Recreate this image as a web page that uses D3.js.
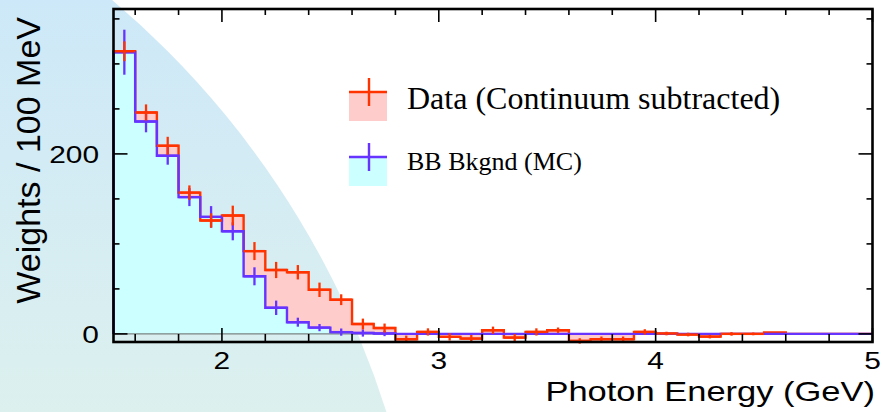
<!DOCTYPE html>
<html>
<head>
<meta charset="utf-8">
<script src="https://cdn.jsdelivr.net/npm/d3@7"></script>
<style>
  html, body { margin: 0; padding: 0; background: #ffffff; }
  svg { display: block; }
</style>
</head>
<body>
<svg id="chart" width="882" height="412"></svg>
<script>
// Photon energy bins (lower edge, GeV), 100 MeV wide
const binStart = [1.5, 1.6, 1.7, 1.8, 1.9, 2.0, 2.1, 2.2, 2.3, 2.4, 2.5, 2.6, 2.7,
  2.8, 2.9, 3.0, 3.1, 3.2, 3.3, 3.4, 3.5, 3.6, 3.7, 3.8, 3.9,
  4.0, 4.1, 4.2, 4.3, 4.4, 4.5, 4.6, 4.7, 4.8, 4.9];
const binWidth = 0.1;

// Continuum-subtracted data, weights per 100 MeV
const dataValues = [314, 246, 209, 157, 126, 131.5, 92, 71, 68.5, 49, 38, 11, 6.5,
  -5.9, 2.2, -3.3, -5.2, 4.1, -4.1, 2.2, 4.1, -7.8, -5.9, -5.9, 2.2,
  0.4, -0.7, -3, 0, 0, 1.5, 0, 0, 0, 0];
const dataErrors = [11, 9, 10, 8, 8, 11, 10, 9, 8, 8, 6, 6, 5,
  4, 4, 4, 4, 4, 4, 4, 3, 3, 3, 3, 3,
  2, 2, 2, 2, 1.5, 0, 0, 0, 0, 0];

// BB background Monte Carlo
const mcValues = [313, 236, 198, 152, 130, 114, 64, 29, 13, 7, 2, 1, 0.5,
  0, 0, 0, 0, 0, 0, 0, 0, 0, 0, 0, 0,
  0, 0, 0, 0, 0, 0, 0, 0, 0, 0];
const mcErrors = [25, 12, 10, 10, 12, 10, 10, 8, 5, 4, 4, 4, 3,
  0, 0, 0, 0, 0, 0, 0, 0, 0, 0, 0, 0,
  0, 0, 0, 0, 0, 0, 0, 0, 0, 0];

// Axis ticks
const xMajorTicks = [2, 3, 4, 5];
const xTickLabels = ["2", "3", "4", "5"];
const xMinorTicks = [1.6, 1.8, 2.2, 2.4, 2.6, 2.8, 3.2, 3.4, 3.6, 3.8, 4.2, 4.4, 4.6, 4.8];
const yMajorTicks = [0, 200];
const yTickLabels = ["0", "200"];
const yMinorTicks = [50, 100, 150, 250, 300, 350];

const legendLabels = ["Data (Continuum subtracted)", "BB Bkgnd (MC)"];

const RED = "#ff3300", BLUE = "#6633ff", PINK = "#ffcccc", CYAN = "#ccffff";

const svg = d3.select("#chart");
const W = 882, H = 412;
const plot = { left: 113.5, right: 872.5, top: 9, bottom: 342 };

const x = d3.scaleLinear().domain([1.5, 5]).range([plot.left, plot.right]);
const y = d3.scaleLinear().domain([-9, 361]).range([plot.bottom, plot.top]);

// backdrop: soft blue disc sweeping in from the lower left
const defs = svg.append("defs");
const grad = defs.append("linearGradient").attr("id", "bgGrad")
  .attr("gradientUnits", "userSpaceOnUse")
  .attr("x1", 0).attr("y1", 0).attr("x2", 0).attr("y2", H);
grad.append("stop").attr("offset", 0).attr("stop-color", "#cde8f8");
grad.append("stop").attr("offset", 1).attr("stop-color", "#dcf0ee");
svg.append("circle").attr("cx", -464).attr("cy", 681).attr("r", 892)
  .attr("fill", "url(#bgGrad)");

// histogram helpers
function stepPoints(values) {
  const pts = values.map((v, i) => [binStart[i], v]);
  pts.push([binStart[binStart.length - 1] + binWidth, values[values.length - 1]]);
  return pts;
}
const area = d3.area().curve(d3.curveStepAfter)
  .x(d => x(d[0])).y0(y(0)).y1(d => y(d[1]));
const line = d3.line().curve(d3.curveStepAfter)
  .x(d => x(d[0])).y(d => y(d[1]));
function outline(values) {
  const pts = stepPoints(values);
  return [[binStart[0], 0]].concat(pts, [[pts[pts.length - 1][0], 0]]);
}

// filled histograms
svg.append("path").attr("d", area(stepPoints(dataValues))).attr("fill", PINK);
svg.append("path").attr("d", area(stepPoints(mcValues))).attr("fill", CYAN);

// zero line
svg.append("line")
  .attr("x1", x(1.5)).attr("x2", x(5)).attr("y1", y(0)).attr("y2", y(0))
  .attr("stroke", "#666").attr("stroke-width", 1);

// outlines
svg.append("path").attr("d", line(outline(dataValues)))
  .attr("fill", "none").attr("stroke", RED).attr("stroke-width", 2.4);
svg.append("path").attr("d", line(outline(mcValues)))
  .attr("fill", "none").attr("stroke", BLUE).attr("stroke-width", 2.4);

// error crosses
function crosses(values, errors, color) {
  const g = svg.append("g").attr("stroke", color).attr("stroke-width", 2.3);
  values.forEach((v, i) => {
    if (errors[i] <= 0) return;
    const xc = binStart[i] + binWidth / 2;
    g.append("line")
      .attr("x1", x(binStart[i])).attr("x2", x(binStart[i] + binWidth))
      .attr("y1", y(v)).attr("y2", y(v));
    g.append("line")
      .attr("x1", x(xc)).attr("x2", x(xc))
      .attr("y1", y(v - errors[i])).attr("y2", y(v + errors[i]));
  });
}
crosses(mcValues, mcErrors, BLUE);
crosses(dataValues, dataErrors, RED);

// frame ticks (inward on all four sides)
const tickG = svg.append("g").attr("stroke", "#000").attr("stroke-width", 1.6);
xMajorTicks.forEach(t => {
  tickG.append("line").attr("x1", x(t)).attr("x2", x(t)).attr("y1", plot.bottom).attr("y2", plot.bottom - 14);
  tickG.append("line").attr("x1", x(t)).attr("x2", x(t)).attr("y1", plot.top).attr("y2", plot.top + 13);
});
xMinorTicks.forEach(t => {
  tickG.append("line").attr("x1", x(t)).attr("x2", x(t)).attr("y1", plot.bottom).attr("y2", plot.bottom - 8);
  tickG.append("line").attr("x1", x(t)).attr("x2", x(t)).attr("y1", plot.top).attr("y2", plot.top + 6);
});
yMajorTicks.forEach(t => {
  tickG.append("line").attr("x1", plot.left).attr("x2", plot.left + 14).attr("y1", y(t)).attr("y2", y(t));
  tickG.append("line").attr("x1", plot.right).attr("x2", plot.right - 14).attr("y1", y(t)).attr("y2", y(t));
});
yMinorTicks.forEach(t => {
  tickG.append("line").attr("x1", plot.left).attr("x2", plot.left + 6).attr("y1", y(t)).attr("y2", y(t));
  tickG.append("line").attr("x1", plot.right).attr("x2", plot.right - 6).attr("y1", y(t)).attr("y2", y(t));
});

// frame
svg.append("rect")
  .attr("x", plot.left).attr("y", plot.top)
  .attr("width", plot.right - plot.left).attr("height", plot.bottom - plot.top)
  .attr("fill", "none").attr("stroke", "#000").attr("stroke-width", 2.6);

// tick labels (slightly wide face)
const sans = "'Liberation Sans', Arial, Helvetica, sans-serif";
const wide = 1.22;
svg.append("g").selectAll("text").data(xMajorTicks).join("text")
  .attr("transform", d => `translate(${x(d)},369) scale(${wide},1)`)
  .attr("text-anchor", "middle")
  .attr("font-family", sans).attr("font-size", 24.5)
  .text((d, i) => xTickLabels[i]);
svg.append("g").selectAll("text").data(yMajorTicks).join("text")
  .attr("transform", d => `translate(99,${y(d) + 9}) scale(${wide},1)`)
  .attr("text-anchor", "end")
  .attr("font-family", sans).attr("font-size", 24.5)
  .text((d, i) => yTickLabels[i]);

// axis titles
svg.append("text")
  .attr("transform", "translate(875,401) scale(1.21,1)")
  .attr("text-anchor", "end")
  .attr("font-family", sans).attr("font-size", 28.5)
  .text("Photon Energy (GeV)");
svg.append("text")
  .attr("transform", "translate(40,17) rotate(-90)")
  .attr("text-anchor", "end")
  .attr("font-family", sans).attr("font-size", 34)
  .text("Weights / 100 MeV");

// legend
const serif = "'Liberation Serif', 'Times New Roman', Times, serif";
const legend = [
  { label: legendLabels[0], line: RED, fill: PINK, y: 92, size: 32, dy: 17 },
  { label: legendLabels[1], line: BLUE, fill: CYAN, y: 157, size: 26, dy: 13 }
];
legend.forEach(L => {
  svg.append("rect").attr("x", 349).attr("y", L.y).attr("width", 38).attr("height", 29)
    .attr("fill", L.fill);
  svg.append("line").attr("x1", 349).attr("x2", 387).attr("y1", L.y).attr("y2", L.y)
    .attr("stroke", L.line).attr("stroke-width", 2.4);
  svg.append("line").attr("x1", 369).attr("x2", 369).attr("y1", L.y - 14).attr("y2", L.y + 14)
    .attr("stroke", L.line).attr("stroke-width", 2.4);
  svg.append("text").attr("x", 407).attr("y", L.y + L.dy)
    .attr("font-family", serif).attr("font-size", L.size)
    .text(L.label);
});
</script>
</body>
</html>
